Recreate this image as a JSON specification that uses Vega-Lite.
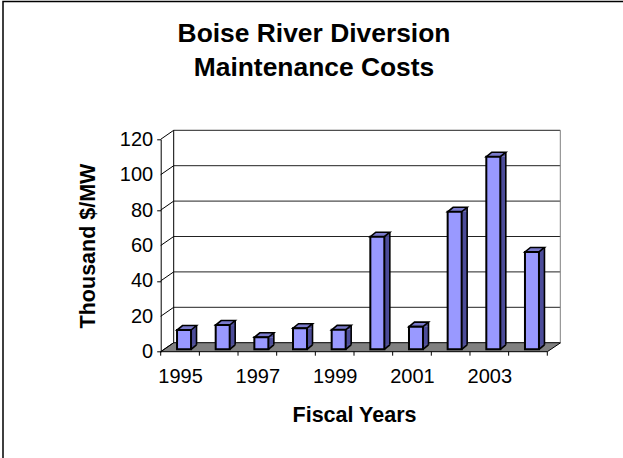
{
"$schema":"https://vega.github.io/schema/vega-lite/v6.json",
"width":386.6,"height":212.4,
"autosize":{"type":"none"},
"padding":{"left":160.7,"top":139.3,"right":75.7,"bottom":106.3},
"background":"white",
"view":{"stroke":null},
"config":{"axis":{"labelOverlap":false,"labelFont":"Liberation Sans","labelFontSize":20,"labelColor":"black","titleFont":"Liberation Sans","titleFontSize":21.5,"titleFontWeight":"bold","titleColor":"black","grid":false}},
"datasets":{
"costs":[{"year":1995,"cost":10.9},{"year":1996,"cost":13.7},{"year":1997,"cost":6.8},{"year":1998,"cost":11.9},{"year":1999,"cost":11},{"year":2000,"cost":63.6},{"year":2001,"cost":12.8},{"year":2002,"cost":77.7},{"year":2003,"cost":108.8},{"year":2004,"cost":55}],
"levels":[{"level":0},{"level":20},{"level":40},{"level":60},{"level":80},{"level":100},{"level":120}],
"edges":[{"edge":1994.5},{"edge":1995.5},{"edge":1996.5},{"edge":1997.5},{"edge":1998.5},{"edge":1999.5},{"edge":2000.5},{"edge":2001.5},{"edge":2002.5},{"edge":2003.5},{"edge":2004.5}],
"one":[{"part":"chart"}]
},
"data":{"name":"one"},
"layer":[
{"mark":{"type":"point","shape":"M-157.7,110L-157.7,-350.2L463,-350.2","size":4,"filled":false,"stroke":"black","strokeWidth":1.5,"opacity":1},
 "encoding":{"x":{"datum":1994.5,"type":"quantitative","scale":{"domain":[1994.5,2004.5],"nice":false,"zero":false},
   "axis":{"values":[1995,1997,1999,2001,2003],"format":"d","ticks":false,"domain":false,"labelPadding":15,"title":"Fiscal Years","titlePadding":18}},
  "y":{"datum":0,"type":"quantitative","scale":{"domain":[0,120],"nice":false},
   "axis":{"values":[0,20,40,60,80,100,120],"tickColor":"black","tickSize":4,"domainColor":"black","labels":false,"title":"Thousand $/MW","titleX":-66,"titleBaseline":"alphabetic"}}}},
{"mark":{"type":"point","shape":"M0,0L386.6,0L400,-9L13,-9Z","size":4,"filled":true,"fill":"#808080","stroke":"black","strokeWidth":1,"opacity":1},
 "encoding":{"x":{"datum":1994.5,"type":"quantitative"},"y":{"datum":0,"type":"quantitative"}}},
{"data":{"name":"levels"},"mark":{"type":"text","font":"Liberation Sans","fontSize":20,"color":"black","align":"right","baseline":"middle","xOffset":-7.5,"yOffset":0.5},
 "encoding":{"x":{"datum":1994.5,"type":"quantitative"},"y":{"field":"level","type":"quantitative"},"text":{"field":"level","type":"quantitative"}}},
{"data":{"name":"levels"},"transform":[{"filter":"datum.level>0"}],"mark":{"type":"rule","color":"#222","strokeWidth":1,"xOffset":13,"x2Offset":13,"yOffset":-9,"y2Offset":-9},
 "encoding":{"x":{"datum":1994.5,"type":"quantitative"},"x2":{"datum":2004.5},"y":{"field":"level","type":"quantitative"}}},
{"data":{"name":"levels"},"mark":{"type":"point","shape":"M0,0L13,-9","size":4,"filled":false,"stroke":"black","strokeWidth":1,"opacity":1},
 "encoding":{"x":{"datum":1994.5,"type":"quantitative"},"y":{"field":"level","type":"quantitative"}}},
{"mark":{"type":"rule","color":"black","strokeWidth":1,"xOffset":13,"x2Offset":13,"yOffset":-9,"y2Offset":-9},
 "encoding":{"x":{"datum":1994.5,"type":"quantitative"},"y":{"datum":0,"type":"quantitative"},"y2":{"datum":120}}},
{"mark":{"type":"rule","color":"#808080","strokeWidth":1,"xOffset":13,"x2Offset":13,"yOffset":-9,"y2Offset":-9},
 "encoding":{"x":{"datum":2004.5,"type":"quantitative"},"y":{"datum":0,"type":"quantitative"},"y2":{"datum":120}}},
{"data":{"name":"edges"},"mark":{"type":"rule","color":"black","strokeWidth":1,"y2Offset":4},
 "encoding":{"x":{"field":"edge","type":"quantitative"},"y":{"datum":0,"type":"quantitative"},"y2":{"datum":0}}},
{"data":{"name":"costs"},"mark":{"type":"rect","fill":"#4c4c99","strokeWidth":0,"xOffset":11,"x2Offset":16.5,"yOffset":-2.4,"y2Offset":-7},
 "encoding":{"x":{"field":"year","type":"quantitative"},"x2":{"field":"year"},"y":{"field":"cost","type":"quantitative"},"y2":{"datum":0}}},
{"data":{"name":"costs"},"mark":{"type":"point","shape":"M0,0L5.5,-4.5L0,-4.5Z","size":4,"filled":true,"fill":"#4c4c99","strokeWidth":0,"opacity":1,"xOffset":11,"yOffset":-2.4},
 "encoding":{"x":{"field":"year","type":"quantitative"},"y":{"datum":0,"type":"quantitative"}}},
{"data":{"name":"costs"},"mark":{"type":"point","shape":"M0,0L5.5,-4.5","size":4,"filled":false,"stroke":"black","strokeWidth":1.6,"opacity":1,"xOffset":11,"yOffset":-2.4},
 "encoding":{"x":{"field":"year","type":"quantitative"},"y":{"datum":0,"type":"quantitative"}}},
{"data":{"name":"costs"},"mark":{"type":"point","shape":"M0,0L5.5,-4.5L5.5,0Z","size":4,"filled":true,"fill":"#4c4c99","strokeWidth":0,"opacity":1,"xOffset":11,"yOffset":-2.4},
 "encoding":{"x":{"field":"year","type":"quantitative"},"y":{"field":"cost","type":"quantitative"}}},
{"data":{"name":"costs"},"mark":{"type":"rule","color":"black","strokeWidth":1.6,"xOffset":16.5,"yOffset":-6.9,"y2Offset":-6.9},
 "encoding":{"x":{"field":"year","type":"quantitative"},"y":{"field":"cost","type":"quantitative"},"y2":{"datum":0}}},
{"data":{"name":"costs"},"mark":{"type":"point","shape":"M0,0L14,0L19.5,-4.5L5.5,-4.5Z","size":4,"filled":true,"fill":"#7a7acc","stroke":"black","strokeWidth":1.6,"opacity":1,"xOffset":-3,"yOffset":-2.4},
 "encoding":{"x":{"field":"year","type":"quantitative"},"y":{"field":"cost","type":"quantitative"}}},
{"data":{"name":"costs"},"mark":{"type":"rect","fill":"#9999ff","stroke":"black","strokeWidth":2,"xOffset":-3,"x2Offset":11,"yOffset":-2.4,"y2Offset":-2.4},
 "encoding":{"x":{"field":"year","type":"quantitative"},"x2":{"field":"year"},"y":{"field":"cost","type":"quantitative"},"y2":{"datum":0}}}
],
"title":{"text":["Boise River Diversion","Maintenance Costs"],"font":"Liberation Sans","fontSize":26.4,"fontWeight":"bold","color":"black","anchor":"middle","dx":-40,"offset":0,"dy":83,"lineHeight":34}
}
